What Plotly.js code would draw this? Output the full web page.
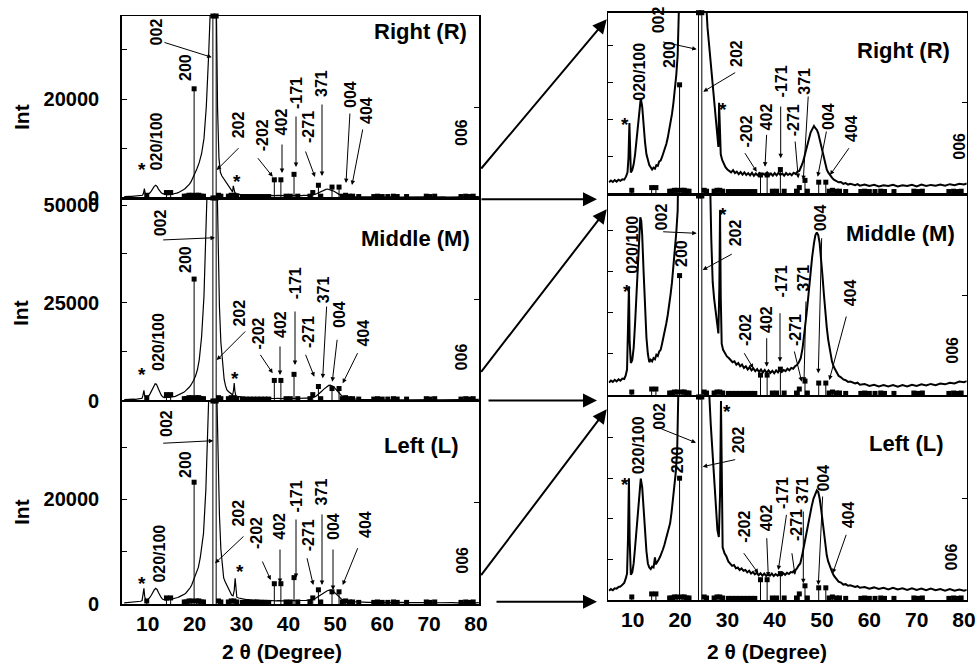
<!DOCTYPE html>
<html><head><meta charset="utf-8">
<script src="https://cdn.plot.ly/plotly-3.0.1.min.js"></script>
<style>html,body{margin:0;padding:0;background:#fff}#plot{width:979px;height:665px}</style>
</head><body><div id="plot"></div>
<script>
// ---------- DATA ----------
// 2θ (degrees) and intensity (counts) for the three samples
const R_x = [5.0,5.4,5.8,6.2,6.6,7.0,7.4,7.8,8.2,8.6,8.9,9.1,9.3,9.45,9.6,9.9,10.2,10.5,10.8,11.1,11.4,11.7,12.0,12.3,12.6,12.9,13.2,13.5,13.8,14.1,14.4,14.7,15.0,15.3,15.6,15.9,16.2,16.5,16.8,17.1,17.4,17.7,18.0,18.3,18.6,18.9,19.2,19.5,19.8,20.1,20.5,21.0,21.5,22.0,22.5,23.0,23.4,23.8,24.2,24.6,24.9,25.2,25.5,25.8,26.1,26.4,26.7,27.0,27.3,27.6,27.9,28.1,28.25,28.4,28.6,28.9,29.2,29.6,30.0,30.4,30.8,31.2,31.6,32.0,32.4,32.8,33.2,33.6,34.0,34.4,34.8,35.2,35.6,36.0,36.4,36.8,37.2,37.6,38.0,38.4,38.8,39.2,39.6,40.0,40.4,40.8,41.2,41.6,42.0,42.4,42.8,43.2,43.6,44.0,44.4,44.8,45.2,45.6,46.0,46.4,46.8,47.2,47.6,48.0,48.3,48.6,48.9,49.2,49.5,49.8,50.1,50.4,50.7,51.0,51.3,51.7,52.1,52.5,53.0,53.5,54.0,54.5,55.0,55.5,56.0,57.0,57.5,58.0,59.0,60.0,61.0,62.0,63.0,64.0,65.0,66.0,67.0,68.0,69.0,70.0,71.0,72.0,73.0,74.0,75.0,76.0,77.0,78.0,79.0,80.0,80.6];
const R_int = [290,340,300,350,310,360,330,370,360,450,560,950,1900,1000,560,620,780,1050,1450,1950,2350,2580,2350,1800,1380,1050,880,760,700,640,690,660,760,740,860,880,980,1080,1200,1330,1500,1700,1920,2150,2450,2800,3200,3750,4400,5100,5900,7200,9000,12000,18500,29000,42000,58000,60000,42000,18000,8000,5200,4500,4050,3650,3200,2750,2350,1900,1450,1250,2450,1500,1050,900,800,700,640,600,560,620,540,580,510,570,500,560,490,540,480,550,470,530,480,540,470,520,490,560,480,530,470,540,480,550,490,530,470,540,490,530,480,550,520,580,600,720,850,1050,1250,1450,1650,1750,1820,1760,1720,1620,1450,1300,1100,900,760,640,560,470,420,360,330,290,300,250,270,230,250,210,240,200,230,190,220,180,210,190,220,180,210,190,220,180,230,190,220,200,230,200,240,210,250,230,260];

const M_x = [5.0,5.4,5.8,6.2,6.6,7.0,7.4,7.8,8.2,8.5,8.8,9.0,9.2,9.35,9.6,9.9,10.2,10.5,10.8,11.1,11.4,11.6,11.8,12.0,12.3,12.6,12.9,13.2,13.5,13.8,14.1,14.4,14.7,15.0,15.3,15.6,15.9,16.2,16.5,16.8,17.1,17.4,17.7,18.0,18.3,18.6,18.9,19.2,19.5,19.8,20.2,20.6,21.0,21.5,22.0,22.4,22.8,23.2,23.7,24.2,24.6,25.0,25.3,25.6,26.0,26.3,26.6,26.9,27.2,27.5,27.8,28.1,28.3,28.45,28.6,28.8,29.1,29.5,29.9,30.3,30.7,31.1,31.5,31.9,32.3,32.7,33.1,33.5,33.9,34.3,34.7,35.1,35.5,35.9,36.3,36.7,37.1,37.5,37.9,38.3,38.7,39.1,39.5,39.9,40.3,40.7,41.1,41.5,41.9,42.3,42.7,43.1,43.5,43.9,44.3,44.7,45.1,45.5,45.9,46.3,46.7,47.1,47.5,47.9,48.3,48.6,48.9,49.2,49.5,49.8,50.1,50.4,50.7,51.0,51.3,51.7,52.1,52.5,53.0,53.5,54.0,54.5,55.0,55.5,56.0,57.0,57.5,58.0,59.0,60.0,61.0,62.0,63.0,64.0,65.0,66.0,67.0,68.0,69.0,70.0,71.0,72.0,73.0,74.0,75.0,76.0,77.0,78.0,79.0,80.0,80.6];
const M_int = [300,350,320,370,330,380,350,400,390,470,620,1400,2650,1300,780,850,1150,1750,2450,3300,3950,4330,4250,3900,3000,2100,1400,1000,800,860,820,900,870,980,950,1060,1100,1250,1400,1560,1750,1950,2150,2450,2750,3100,3500,3950,4500,5200,6300,7900,10500,16400,26700,40000,58000,80000,95000,90000,68000,40000,24000,15000,8500,5500,3800,2750,2350,2050,1750,1500,2600,4500,2400,1250,1100,1000,940,900,860,800,820,740,780,700,740,660,700,620,680,600,650,580,630,560,620,550,610,540,600,540,590,530,600,550,620,560,610,580,640,600,660,640,700,730,800,900,1150,1500,1950,2400,2900,3350,3700,3900,3960,3900,3700,3350,2900,2450,2000,1650,1350,1050,820,680,560,470,430,380,360,320,330,280,300,250,270,220,250,210,240,210,240,200,240,210,250,220,260,230,270,240,280,260,300,280,330,310,340];

const L_x = [5.0,5.4,5.8,6.2,6.6,7.0,7.4,7.8,8.2,8.5,8.8,9.0,9.2,9.35,9.6,9.9,10.2,10.5,10.8,11.1,11.4,11.7,12.0,12.3,12.6,12.9,13.2,13.5,13.8,14.1,14.4,14.7,14.9,15.2,15.5,15.8,16.1,16.4,16.7,17.0,17.3,17.6,17.9,18.2,18.5,18.8,19.1,19.4,19.7,20.0,20.4,20.8,21.2,21.6,21.9,22.4,22.9,23.3,23.8,24.2,24.6,25.0,25.3,25.6,25.9,26.2,26.5,26.8,27.1,27.4,27.7,27.9,28.2,28.45,28.65,28.8,29.0,29.4,29.8,30.2,30.6,31.0,31.4,31.8,32.2,32.6,33.0,33.4,33.8,34.2,34.6,35.0,35.4,35.8,36.2,36.6,37.0,37.4,37.8,38.2,38.6,39.0,39.4,39.8,40.2,40.6,41.0,41.4,41.8,42.2,42.6,43.0,43.4,43.8,44.2,44.6,45.0,45.4,45.8,46.2,46.6,47.0,47.4,47.8,48.2,48.6,48.9,49.2,49.5,49.8,50.1,50.4,50.7,51.0,51.3,51.7,52.1,52.5,53.0,53.5,54.0,54.5,55.0,55.5,56.0,57.0,57.5,58.0,59.0,60.0,61.0,62.0,63.0,64.0,65.0,66.0,67.0,68.0,69.0,70.0,71.0,72.0,73.0,74.0,75.0,76.0,77.0,78.0,79.0,80.0,80.6];
const L_int = [230,270,240,290,280,320,330,380,420,520,650,1500,3000,1500,620,680,900,1300,1720,2300,2700,2990,2780,2200,1640,1200,900,800,760,820,800,1050,880,960,1000,1070,1150,1250,1360,1480,1600,1720,1890,2150,2450,2800,3150,3700,4350,4900,5800,7000,8800,11000,13500,21800,34500,50000,62000,60000,46000,27000,17000,10500,6800,5000,4300,3800,3300,2700,2100,1720,1550,2600,4900,2200,1300,1150,1070,950,900,840,860,780,800,740,780,720,740,680,720,650,690,630,670,610,660,600,650,590,640,600,650,590,640,600,650,610,660,620,670,640,690,680,730,760,840,900,1100,1350,1600,1850,2100,2300,2500,2620,2700,2660,2500,2250,1950,1600,1300,1100,950,800,700,600,520,450,430,380,390,350,360,320,340,300,320,280,310,270,300,260,300,260,290,250,290,250,280,240,280,240,270,230,270,230,260,230,250];

// reference stick pattern: 2θ and relative intensity (%)
const stick_2theta = [9.8,14.0,14.9,17.8,18.3,18.8,19.4,19.9,20.4,20.9,21.4,21.9,23.9,24.6,25.1,25.6,27.2,27.8,28.4,29.0,30.2,31.0,31.8,32.6,33.4,34.2,35.0,35.8,37.0,38.4,39.5,40.4,41.2,42.0,44.6,45.2,46.4,46.9,49.3,50.8,51.5,52.2,53.0,53.7,55.0,58.2,59.0,60.0,61.2,62.4,63.2,65.2,69.4,70.2,71.2,76.8,77.8,78.6,79.4];
const stick_rel = [1.5,3,3,1,1,1.5,1.5,60,1.5,1.5,1,1,100,100,1.5,1,1,1.5,1.5,1,0.8,0.8,0.8,0.8,0.8,0.8,0.8,0.8,10,10,1,1,13,1,1,3,7,1,6,6,1,1.5,1,1,0.8,0.8,1,0.8,0.8,1,0.8,0.8,1,0.8,1,0.8,1,0.8,1];

const xTicks = [10,20,30,40,50,60,70,80];
const sampleNames = ['Right (R)','Middle (M)','Left (L)'];

// ---------- LAYOUT HELPERS ----------
const W = 979, H = 665;
const X = p => p / W, Y = p => 1 - p / H;
const FONT = 'Liberation Sans, Arial, sans-serif';
const LX = [121.7, 479], RX = [608.3, 966.7];
const LROWS = [[16,198],[198,400.7],[401,604]];
const RROWS = [[12.7,193],[196,395],[397,600]];
const LYR = [[0,36800],[0,51800],[0,38800]];
const RYR = [[0,4900],[0,4850],[0,5000]];
const LTV = [[0,10000,20000,30000],[0,12500,25000,37500,50000],[0,10000,20000,30000]];
const LTT = [['0','','20000',''],['0','','25000','','50000'],['0','','20000','']];

const layout = {width:W, height:H, margin:{l:0,r:0,t:0,b:0}, showlegend:false,
  paper_bgcolor:'white', plot_bgcolor:'white', annotations:[]};

function xax(dom, rng, anchor, labels){
  return {domain:[X(dom[0]),X(dom[1])], range:rng, anchor:anchor, showline:true, mirror:true,
    linecolor:'black', linewidth:1.5, ticks:'', showgrid:false, zeroline:false,
    tickvals:xTicks, showticklabels:labels, ticklabelstandoff:0,
    tickfont:{family:FONT,size:21,weight:'bold',color:'black'}};
}
function yax(row, rng, anchor, tv, tt, labels){
  const a = {domain:[Y(row[1]),Y(row[0])], range:rng, anchor:anchor, showline:true, mirror:true,
    linecolor:'black', linewidth:1.5, ticks:'inside', ticklen:5, tickwidth:1, tickcolor:'black',
    showgrid:false, zeroline:false, tickvals:tv, showticklabels:labels,
    ticklabelstandoff:17, tickfont:{family:FONT,size:20,weight:'bold',color:'black'}};
  if (tt) a.ticktext = tt;
  return a;
}
function stickAx(over, anchor){
  return {overlaying:over, side:'right', anchor:anchor, range:[0,100], tickvals:[50],
    ticks:'inside', ticklen:5, tickcolor:'black', showticklabels:false, showgrid:false,
    zeroline:false, showline:false};
}

const traces = [];
const samples = [[R_x,R_int],[M_x,M_int],[L_x,L_int]];
for (let i = 0; i < 3; i++) {
  const nL = i + 1, nR = i + 4;
  const xl = nL === 1 ? 'x' : 'x' + nL, yl = nL === 1 ? 'y' : 'y' + nL;
  const xr = 'x' + nR, yr = 'y' + nR;
  layout[nL === 1 ? 'xaxis' : 'xaxis' + nL] = xax(LX, [4.46, 80.64], yl, i === 2);
  layout['xaxis' + nR] = xax(RX, [4.84, 80.57], yr, i === 2);
  layout[nL === 1 ? 'yaxis' : 'yaxis' + nL] = yax(LROWS[i], LYR[i], xl, LTV[i], LTT[i], true);
  layout['yaxis' + nR] = yax(RROWS[i], RYR[i], xr, [1000,2000,3000,4000], null, false);
  layout['yaxis' + (nL + 6)] = stickAx(yl, xl);
  layout['yaxis' + (nR + 6)] = stickAx(yr, xr);

  const [sx, sy] = samples[i];
  traces.push({type:'scatter', mode:'lines', x:sx, y:sy, xaxis:xl, yaxis:yl,
    line:{color:'black', width:1.2}});
  traces.push({type:'scatter', mode:'lines', x:sx, y:sy, xaxis:xr, yaxis:yr,
    line:{color:'black', width:2}});
  for (const [xa, ya] of [[xl, 'y' + (nL + 6)], [xr, 'y' + (nR + 6)]]) {
    traces.push({type:'scatter', mode:'markers', x:stick_2theta, y:stick_rel, xaxis:xa, yaxis:ya,
      cliponaxis:false, marker:{symbol:'square', size:5, color:'black'},
      error_y:{type:'data', symmetric:false, array:stick_rel.map(() => 0), arrayminus:stick_rel,
        width:0, thickness:1, color:'black'}});
  }
}

// ---------- ANNOTATIONS (page pixel positions) ----------
function txt(t, x, y, size, angle){
  layout.annotations.push({text:t, x:X(x), y:Y(y), xref:'paper', yref:'paper', showarrow:false,
    textangle:angle, xanchor:'center', yanchor:'middle',
    font:{family:FONT, size:size, weight:'bold', color:'black'}});
}
function arr(x0, y0, x1, y1, w, s){
  layout.annotations.push({text:'', x:X(x1), y:Y(y1), xref:'paper', yref:'paper',
    ax:x0 - x1, ay:y0 - y1, axref:'pixel', ayref:'pixel', showarrow:true,
    arrowhead:2, arrowsize:s, arrowwidth:w, arrowcolor:'black', standoff:0});
}
const hklLabels = [
 [['002',156.7,31.7],['200',185,68],['020/100',156.7,141.7],['202',238.3,125],['-202',263.3,135],['402',281.7,121.7],['-171',296.7,93.3],['-271',308.3,126.7],['371',321.7,83.3],['004',351,95],['404',367,111],['006',462,133]],
 [['002',160,223.3],['200',185,260],['020/100',158.3,341.7],['202',239.3,313.3],['-202',258.3,333.3],['402',280,325],['-171',295,283.3],['-271',308.3,331.7],['371',323.3,290],['004',340,315],['404',363.3,333.3],['006',461.7,356.7]],
 [['002',166.7,423.3],['200',185,465],['020/100',159.3,553.3],['202',238.3,513.3],['-202',256.7,533.3],['402',280,526.7],['-171',296.7,496.7],['-271',308.3,535],['371',321.7,491.7],['004',333.3,526.7],['404',365,525],['006',461.7,560]],
 [['020/100',640,71.7],['002',658.3,20],['200',670,55],['202',736.7,53.3],['-202',746.7,131.7],['402',766.7,116.7],['-171',781.7,81.7],['-271',793.3,120],['371',805,81.7],['004',828.3,116.7],['404',851.7,128.3],['006',960,146.7]],
 [['020/100',631.7,245],['002',661.7,216.7],['200',681.7,253.3],['202',735,233.3],['-202',745,330],['402',766,320],['-171',781.7,281.7],['-271',795,330],['371',803.3,278.3],['004',820,218.3],['404',850,293.3],['006',951.7,350]],
 [['020/100',638.3,445],['002',660,416.7],['200',677.3,460],['202',738.3,440],['-202',745,526.7],['402',766,518.3],['-171',782.7,493.3],['-271',796,525],['371',801.7,490],['004',823.3,478.3],['404',848.3,515],['006',951.7,556.7]]
];
const stars = [[141.7,166.7],[236.7,178.3],[141.7,371.7],[235,375],[141.7,580],[240,568.3],[625,121.7],[723.3,106.7],[627.3,288.3],[723.3,211.7],[625,481.7],[726.7,408.3]];
const hklArrows = [
 [163,42,211.7,57.3],[240,146.7,216.7,170],[256.7,156.7,272.7,176.7],[282,143,282,173],[296,115,296,167],[305,150,315,177],[322,103,322,176],[350,112,346,183],[363,128,352,185],
 [161.7,240,215,237.7],[246.7,330,216.7,360],[259.3,353.3,272.7,373.3],[280,345,280,375],[295,310,295,365],[305,353.3,314.3,376.7],[326.7,305,322.7,378.3],[337.3,338.3,332.3,381.7],[358.3,351.7,342.7,383.3],
 [161.7,443.3,213.3,440.7],[245,535,215,563.3],[261.7,560,270.7,580],[280,548,280,583],[296,518,296,578],[306.7,556.7,313.3,585],[322,513,322,585],[333,548,333,590],[358.3,546.7,342.7,585],
 [661.7,41.7,696.7,49.3],[736.7,71.7,703.3,91.7],[744,151.7,756.7,171.7],[766.7,133.3,765,166.7],[780.7,105,780.7,158.3],[795,140,798.3,178.3],[808.3,95,803.3,180],[826.7,130,817.7,176.7],[850,146.7,830,175],
 [661.7,231.7,696.7,233.3],[733.3,253.3,702.7,270],[743.3,351.7,753.3,368.3],[766.7,336.7,766.7,366.7],[780,311.7,780,361.7],[794,350,801.7,381.7],[806,300,804,381.7],[821.7,236.7,818.3,373.3],[846.7,315,829.3,380],
 [660,428.3,696,442.7],[736.7,459.3,702.7,466.7],[742.7,551.7,758.3,573.3],[766.7,536.7,768.3,576.7],[786.7,513.3,778.3,570],[791.7,551.7,795,575],[803.3,510,803.3,583.3],[822.7,495,818.3,585],[846.7,533.3,832.7,573.3]
];
const panelArrows = [[480,170,606.7,19.3],[480,199.3,597,199.3],[480,373.3,606.7,209.3],[487,400.5,597,400.5],[480,576.7,606.7,409.3],[495,601.7,597,601.7]];
const nameLabels = [[420,32],[415,238.3],[421.7,445],[903.3,50],[900,233.3],[906.7,443.3]];

hklLabels.forEach(p => p.forEach(l => txt(l[0], l[1], l[2], 16, -90)));
stars.forEach(s => txt('*', s[0], s[1] + 3, 19, 0));
hklArrows.forEach(a => arr(a[0], a[1], a[2], a[3], 1, 0.9));
panelArrows.forEach(a => arr(a[0], a[1], a[2], a[3], 2, 1.4));
nameLabels.forEach((p, k) => txt(sampleNames[k % 3], p[0], p[1], 22, 0));
[117, 313, 512].forEach(y => txt('Int', 21, y, 21, -90));
[281.7, 767].forEach(x => txt('2 θ (Degree)', x, 651, 21, 0));

Plotly.newPlot('plot', traces, layout, {staticPlot:true});
</script></body></html>
